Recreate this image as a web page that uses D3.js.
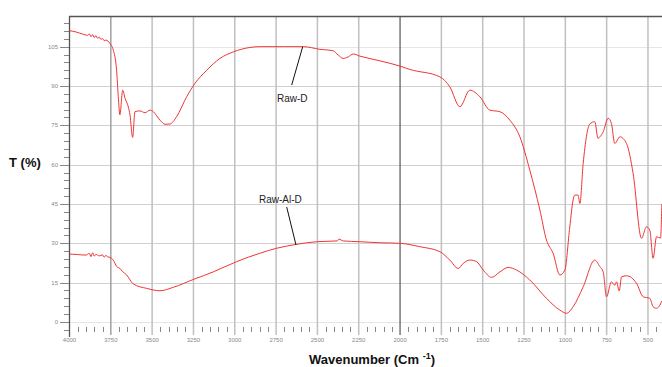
<!DOCTYPE html>
<html>
<head>
<meta charset="utf-8">
<script src="https://cdn.jsdelivr.net/npm/d3@7"></script>
<style>
  body { margin: 0; background: #fff; }
  svg { display: block; font-family: "Liberation Sans", Arial, sans-serif; }
</style>
</head>
<body>
<script>
// wavenumber (cm-1)
var rawDWn = [4000, 3960, 3920, 3890, 3880, 3870, 3860, 3850, 3840, 3830, 3820, 3810, 3800, 3790, 3780, 3755, 3735, 3715, 3705, 3695, 3678, 3664, 3644, 3634, 3618, 3604, 3574, 3543, 3513, 3493, 3453, 3422, 3392, 3352, 3291, 3241, 3170, 3090, 3009, 2908, 2848, 2700, 2586, 2485, 2404, 2374, 2344, 2314, 2283, 2243, 2122, 2001, 1940, 1759, 1699, 1638, 1578, 1517, 1457, 1396, 1336, 1275, 1215, 1154, 1114, 1074, 1033, 1003, 973, 953, 943, 923, 912, 892, 852, 822, 802, 791, 771, 741, 721, 701, 670, 630, 590, 539, 509, 489, 469, 448, 424, 416];
var rawDT  = [111.1, 110.6, 109.8, 109.3, 109.9, 108.8, 109.6, 108.5, 109.2, 108.2, 108.7, 107.8, 108.1, 107.3, 107.5, 106.2, 103.7, 96, 86, 79, 88.4, 85.3, 82, 79, 70.4, 80.2, 80.5, 79.8, 80.8, 80.2, 77, 75.4, 75.5, 78.3, 85.9, 91, 96, 100.5, 103, 104.7, 105, 105, 105, 104, 103.4, 101.8, 100.5, 101.1, 102.2, 101.4, 99.6, 97.6, 96.3, 93.5, 89.7, 82.1, 88.4, 85.9, 80.8, 80.2, 77, 70.6, 57.9, 42.7, 31.2, 26.2, 17.9, 19.8, 36.3, 46.5, 48.4, 48.4, 45.2, 60.5, 75.5, 76.4, 70, 70.6, 72.5, 77.7, 75.7, 68.1, 70.6, 68.1, 56.7, 31.9, 36.3, 35, 24.3, 32.5, 32, 45];

var rawAlWn = [4000, 3950, 3900, 3880, 3870, 3860, 3850, 3840, 3820, 3800, 3790, 3780, 3770, 3755, 3735, 3715, 3695, 3680, 3654, 3614, 3533, 3453, 3372, 3251, 3130, 2989, 2848, 2747, 2626, 2505, 2380, 2370, 2344, 2243, 2122, 2001, 1880, 1759, 1699, 1648, 1618, 1578, 1537, 1497, 1446, 1396, 1346, 1295, 1215, 1114, 1033, 993, 953, 892, 822, 791, 771, 751, 721, 701, 690, 674, 660, 630, 569, 529, 489, 469, 448, 432, 416];
var rawAlT  = [25.9, 25.7, 25.5, 26.2, 24.9, 26.4, 25.1, 25.8, 25.2, 25.6, 24.7, 25.4, 24.9, 24.6, 23.6, 21.2, 20.4, 19.3, 17.9, 14.5, 12.8, 11.9, 13.2, 16.2, 19.1, 23, 26.2, 28.1, 29.6, 30.6, 30.9, 31.6, 30.9, 30.6, 30.2, 30, 28.7, 26.8, 23.6, 20.4, 22.3, 23.6, 23, 19.8, 17, 19.1, 20.8, 19.8, 16, 9, 4.5, 3.3, 5.8, 13.4, 23.6, 21.1, 19.1, 9.6, 15.3, 14, 15.3, 11.8, 17.2, 17.6, 14.7, 9.6, 9, 5.8, 5.2, 6, 8];

var xMajor = [4000, 3750, 3500, 3250, 3000, 2750, 2500, 2250, 2000, 1750, 1500, 1250, 1000, 750, 500];
var yMajor = [0, 15, 30, 45, 60, 75, 90, 105];

var W = 662, H = 367;
var svg = d3.select("body").append("svg").attr("width", W).attr("height", H);

var x = d3.scaleLinear().domain([4000, 400]).range([69.5, 664.5]);
var y = d3.scaleLinear().domain([-4.6, 116.7]).range([334, 16]);

// horizontal grid
svg.append("g").selectAll("line").data(yMajor).enter().append("line")
  .attr("x1", 69.5).attr("x2", W)
  .attr("y1", function (d) { return Math.round(y(d)) + 0.5; })
  .attr("y2", function (d) { return Math.round(y(d)) + 0.5; })
  .attr("stroke", function (d) { return (d == 0 || d == 105) ? "#e6e6e6" : "#d0d0d0"; })
  .attr("stroke-width", 1);

// vertical grid
svg.append("g").selectAll("line").data(xMajor.slice(1)).enter().append("line")
  .attr("x1", function (d) { return x(d); }).attr("x2", function (d) { return x(d); })
  .attr("y1", 16).attr("y2", 335)
  .attr("stroke", function (d) { return d == 2000 ? "#555" : (d == 3750 ? "#a0a0a0" : "#c0c0c0"); })
  .attr("stroke-width", function (d) { return d == 2000 ? 1.2 : 1.5; });

// minor x ticks
svg.append("g").selectAll("line").data(d3.range(4000, 399, -50).filter(function (d) { return d % 250 != 0; }))
  .enter().append("line")
  .attr("x1", function (d) { return Math.round(x(d)) + 0.5; }).attr("x2", function (d) { return Math.round(x(d)) + 0.5; })
  .attr("y1", 327).attr("y2", 332)
  .attr("stroke", "#888").attr("stroke-width", 1);

// x tick labels
svg.append("g").selectAll("text").data(xMajor).enter().append("text")
  .attr("x", function (d) { return x(d); }).attr("y", 342)
  .attr("text-anchor", "middle").attr("font-size", 6).attr("fill", "#888")
  .text(function (d) { return d; });

// y ticks
svg.append("g").selectAll("line").data(d3.range(-3, 117, 3)).enter().append("line")
  .attr("x1", function (d) { return d % 15 == 0 ? 60 : 64; }).attr("x2", 69.5)
  .attr("y1", function (d) { return Math.round(y(d)) + 0.5; })
  .attr("y2", function (d) { return Math.round(y(d)) + 0.5; })
  .attr("stroke", "#888").attr("stroke-width", 1);

svg.append("g").selectAll("text").data(yMajor).enter().append("text")
  .attr("x", 58).attr("y", function (d) { return y(d) + 2; })
  .attr("text-anchor", "end").attr("font-size", 6).attr("fill", "#888")
  .text(function (d) { return d; });

// frame
svg.append("line").attr("x1", 69.5).attr("x2", 69.5).attr("y1", 16).attr("y2", 337)
  .attr("stroke", "#555").attr("stroke-width", 1.3);
svg.append("line").attr("x1", 69).attr("x2", W).attr("y1", 16.5).attr("y2", 16.5)
  .attr("stroke", "#555").attr("stroke-width", 1.3);

// curves
var line = d3.line()
  .x(function (d) { return x(d[0]); })
  .y(function (d) { return y(d[1]); })
  .curve(d3.curveMonotoneX);

svg.append("clipPath").attr("id", "plot").append("rect")
  .attr("x", 69.5).attr("y", 16).attr("width", W - 69.5).attr("height", 320);

[[rawDWn, rawDT], [rawAlWn, rawAlT]].forEach(function (s) {
  svg.append("path")
    .datum(d3.zip(s[0], s[1]))
    .attr("clip-path", "url(#plot)")
    .attr("fill", "none")
    .attr("stroke", "#f03434")
    .attr("stroke-width", 1)
    .attr("d", line);
});

// annotations
svg.append("line").attr("x1", 291.7).attr("y1", 85).attr("x2", 302.7).attr("y2", 46.7)
  .attr("stroke", "#111").attr("stroke-width", 1);
svg.append("text").attr("x", 277).attr("y", 102).attr("font-size", 10).attr("fill", "#222").text("Raw-D");

svg.append("line").attr("x1", 286.7).attr("y1", 207).attr("x2", 296).attr("y2", 245)
  .attr("stroke", "#111").attr("stroke-width", 1);
svg.append("text").attr("x", 259).attr("y", 203).attr("font-size", 10).attr("fill", "#222").text("Raw-Al-D");

// axis titles
svg.append("text").attr("x", 9).attr("y", 167).attr("font-size", 13).attr("font-weight", "bold")
  .attr("fill", "#111").text("T (%)");

var xt = svg.append("text").attr("x", 309).attr("y", 364).attr("font-size", 13)
  .attr("font-weight", "bold").attr("fill", "#111");
xt.append("tspan").text("Wavenumber  (Cm ");
xt.append("tspan").attr("dy", -5).attr("font-size", 9).text("-1");
xt.append("tspan").attr("dy", 5).text(")");
</script>
</body>
</html>
